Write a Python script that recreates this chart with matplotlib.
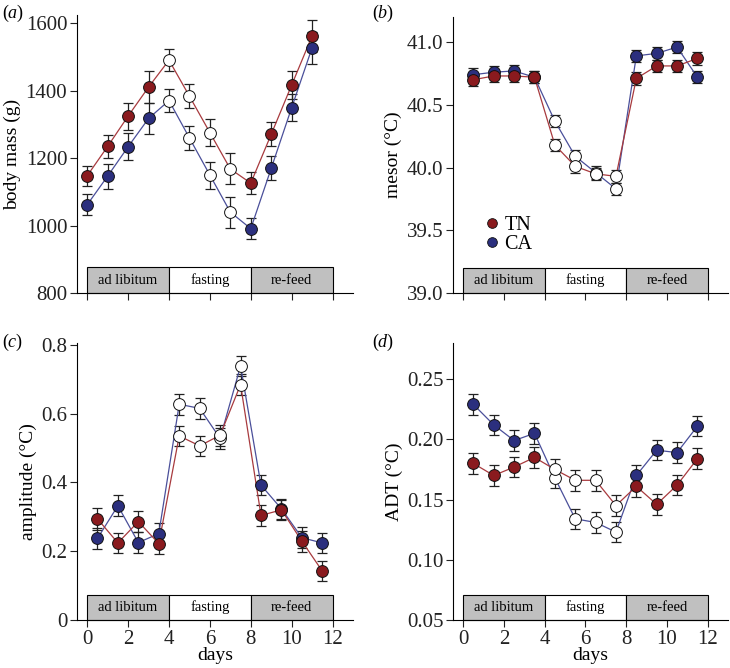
import numpy as np
from matplotlib import pyplot as plt
from matplotlib.lines import Line2D

plt.rcParams['font.family'] = ['Liberation Serif', 'DejaVu Serif']
plt.rcParams['mathtext.fontset'] = 'custom'
plt.rcParams['mathtext.rm'] = 'Liberation Serif'
plt.rcParams['mathtext.it'] = 'Liberation Serif:italic'

### DATA ###
days_a = np.arange(12)          # body mass taken at start of each day
days = np.arange(12) + 0.5      # daily rhythm parameters
fast = np.zeros(12, bool)
fast[4:8] = True                # fasting days -> open symbols

phases = ['ad libitum', 'fasting', 're-feed']
phase_start = [0, 4, 8]
phase_len = 4
phase_col = ['#c0c0c0', 'white', '#c0c0c0']

# (a) body mass (g)
mass_tn = [1148, 1235, 1325, 1411, 1491, 1384, 1276, 1168, 1126, 1271, 1417, 1563]
mass_tn_se = [30, 33, 40, 47, 33, 36, 41, 46, 33, 36, 42, 47]
mass_ca = [1062, 1147, 1234, 1318, 1371, 1260, 1150, 1040, 991, 1170, 1350, 1528]
mass_ca_se = [32, 37, 40, 47, 34, 36, 40, 46, 32, 36, 40, 47]

# (b) mesor (degC)
mes_tn = [40.70, 40.73, 40.73, 40.72, 40.18, 40.01, 39.95, 39.93, 40.71, 40.81, 40.81, 40.87]
mes_tn_se = [0.05, 0.05, 0.05, 0.05, 0.05, 0.05, 0.05, 0.05, 0.05, 0.05, 0.05, 0.05]
mes_ca = [40.74, 40.76, 40.77, 40.72, 40.37, 40.09, 39.96, 39.83, 40.89, 40.91, 40.96, 40.72]
mes_ca_se = [0.05, 0.05, 0.05, 0.05, 0.05, 0.05, 0.05, 0.05, 0.05, 0.05, 0.05, 0.05]

# (c) amplitude (degC)
amp_tn = [0.294, 0.224, 0.286, 0.222, 0.535, 0.506, 0.537, 0.684, 0.304, 0.320, 0.229, 0.142]
amp_tn_se = [0.031, 0.030, 0.030, 0.030, 0.030, 0.030, 0.030, 0.030, 0.030, 0.030, 0.030, 0.030]
amp_ca = [0.237, 0.332, 0.225, 0.251, 0.627, 0.615, 0.528, 0.738, 0.392, 0.323, 0.239, 0.224]
amp_ca_se = [0.030, 0.030, 0.030, 0.030, 0.030, 0.030, 0.030, 0.030, 0.030, 0.030, 0.030, 0.030]

# (d) ADT (degC)
adt_tn = [0.180, 0.170, 0.177, 0.185, 0.175, 0.166, 0.166, 0.145, 0.161, 0.146, 0.162, 0.184]
adt_tn_se = [0.0085] * 12
adt_ca = [0.229, 0.212, 0.199, 0.205, 0.168, 0.134, 0.131, 0.123, 0.170, 0.191, 0.189, 0.211]
adt_ca_se = [0.0085] * 12

RED = '#8a1a1e'
BLUE = '#2b2f7e'
RED_L = '#a83a3e'
BLUE_L = '#4a4f9a'

fig = plt.figure(figsize=(7.3, 6.68), dpi=100)
W, H = 730, 668

def panel(rect, x, tn, tn_se, ca, ca_se, ylim, yticks, yfmt, ylabel, bottom_labels):
    ax = fig.add_axes(rect)
    for y, se, c, lc in [(ca, ca_se, BLUE, BLUE_L), (tn, tn_se, RED, RED_L)]:
        y = np.asarray(y)
        ax.errorbar(x, y, yerr=se, fmt='none', ecolor='#222222', elinewidth=0.9,
                    capsize=3.5, capthick=0.9, zorder=3)
        ax.plot(x, y, '-', color=lc, lw=0.9, zorder=4)
        ax.plot(x[~fast], y[~fast], 'o', ms=8.5, mfc=c, mec='#111111', mew=0.7, ls='none', zorder=5)
        ax.plot(x[fast], y[fast], 'o', ms=8.5, mfc='white', mec='#111111', mew=0.7, ls='none', zorder=5)
    # phase boxes along the bottom
    h = 0.092 * (ylim[1] - ylim[0])
    ax.bar(phase_start, [h] * 3, width=phase_len, bottom=ylim[0], align='edge',
           color=phase_col, edgecolor='black', lw=0.8, zorder=2, clip_on=False)
    for s, p in zip(phase_start, phases):
        ax.text(s + phase_len / 2, ylim[0] + h / 2, p, ha='center', va='center', fontsize=10.5)
    ax.set_xlim(-0.5, 13)
    ax.set_ylim(*ylim)
    ax.set_xticks(np.arange(0, 13, 2))
    ax.set_yticks(yticks)
    ax.set_yticklabels([yfmt(v) for v in yticks])
    if bottom_labels:
        ax.set_xlabel('days', fontsize=14, labelpad=-1)
    else:
        ax.set_xticklabels([])
    ax.set_ylabel(ylabel, fontsize=14, labelpad=3)
    ax.spines['top'].set_visible(False)
    ax.spines['right'].set_visible(False)
    ax.tick_params(direction='out', length=5, width=0.8, labelsize=15, colors='#222222', pad=2)
    return ax

def rect(l, r, t, b):
    return [l / W, 1 - b / H, (r - l) / W, (b - t) / H]

axa = panel(rect(77, 353, 15, 293), days_a, mass_tn, mass_tn_se, mass_ca, mass_ca_se,
            (800, 1625), [800, 1000, 1200, 1400, 1600], lambda v: '%d' % v,
            'body mass (g)', False)
axb = panel(rect(453, 728, 17, 293), days, mes_tn, mes_tn_se, mes_ca, mes_ca_se,
            (39.0, 41.2), [39.0, 39.5, 40.0, 40.5, 41.0], lambda v: '%.1f' % v,
            'mesor (°C)', False)
axc = panel(rect(77, 353, 343, 620), days, amp_tn, amp_tn_se, amp_ca, amp_ca_se,
            (0, 0.805), [0, 0.2, 0.4, 0.6, 0.8], lambda v: '0' if v == 0 else '%.1f' % v,
            'amplitude (°C)', True)
axd = panel(rect(453, 728, 343, 620), days, adt_tn, adt_tn_se, adt_ca, adt_ca_se,
            (0.05, 0.28), [0.05, 0.10, 0.15, 0.20, 0.25], lambda v: '%.2f' % v,
            'ADT (°C)', True)

# panel tags
for tag, px, py in [('a', 2, 3), ('b', 372, 3), ('c', 2, 332), ('d', 372, 332)]:
    fig.text(px / W, 1 - py / H, r'($\it{%s}$)' % tag, fontsize=13, va='top', ha='left')

handles = [Line2D([], [], marker='o', ls='none', ms=7, mfc=RED, mec='#111111', mew=0.6),
           Line2D([], [], marker='o', ls='none', ms=7, mfc=BLUE, mec='#111111', mew=0.6)]
axb.legend(handles, ['TN', 'CA'], loc='center left', bbox_to_anchor=(0.07, 0.21),
           frameon=False, fontsize=14.5, handletextpad=0.1, labelspacing=0.0,
           handlelength=1.0, borderpad=0)

fig.savefig('out.png', dpi=100)
